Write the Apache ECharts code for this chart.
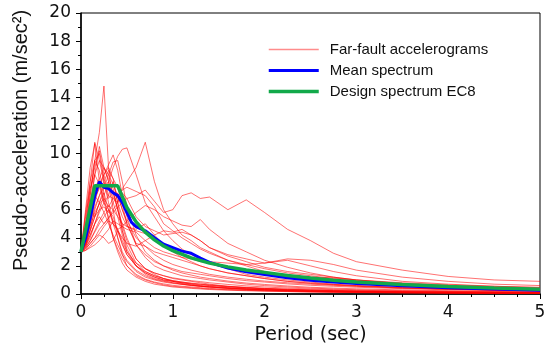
<!DOCTYPE html>
<html>
<head>
<meta charset="utf-8">
<script src="https://cdn.jsdelivr.net/npm/echarts@6/dist/echarts.min.js"></script>
<style>html,body{margin:0;padding:0;background:#fff;}#c{width:550px;height:350px;}</style>
</head>
<body>
<div id="c"></div>
<script>
// Period grid (sec) for the far-fault record spectra
const periods = [0, 0.05, 0.1, 0.15, 0.2, 0.25, 0.3, 0.35, 0.4, 0.45, 0.5, 0.6, 0.7, 0.8, 0.9, 1.0, 1.1, 1.2, 1.3, 1.4, 1.6, 1.8, 2.0, 2.25, 2.5, 2.75, 3.0, 3.5, 4.0, 4.5, 5.0];

// Far-fault accelerogram spectra (m/sec^2), one array per record
const rec01 = [3, 4.5, 7, 9.5, 11.5, 14.8, 9.0, 6.5, 5.5, 4.2, 3.0, 2.0, 1.6, 1.3, 1.1, 0.9, 0.8, 0.7, 0.6, 0.55, 0.45, 0.38, 0.32, 0.27, 0.22, 0.2, 0.18, 0.14, 0.11, 0.09, 0.08];
const rec02 = [3, 3.3, 3.8, 4.5, 5.2, 5.8, 6.3, 6.0, 6.5, 7.5, 8.0, 9.0, 10.8, 8.0, 6.0, 5.0, 4.2, 3.8, 3.3, 3.0, 2.4, 2.0, 1.6, 1.3, 1.1, 0.95, 0.8, 0.6, 0.45, 0.38, 0.32];
const rec03 = [3, 3.2, 3.6, 4.0, 4.6, 5.0, 5.4, 5.8, 6.2, 6.5, 6.8, 7.0, 7.4, 6.6, 5.8, 6.0, 7.0, 7.2, 6.8, 6.9, 6.0, 6.7, 5.8, 4.6, 3.8, 2.9, 2.3, 1.7, 1.25, 1.0, 0.9];
const rec04 = [3, 3.5, 4.2, 5.0, 6.0, 7.0, 8.0, 9.0, 9.8, 10.3, 10.4, 8.5, 6.5, 5.5, 4.5, 3.8, 3.2, 2.8, 2.5, 2.2, 1.8, 1.4, 1.2, 1.0, 0.85, 0.7, 0.6, 0.45, 0.35, 0.28, 0.22];
const rec05 = [3, 5.0, 8.0, 10.8, 9.5, 8.0, 6.5, 5.0, 4.5, 3.5, 2.8, 2.0, 1.5, 1.2, 1.0, 0.9, 0.75, 0.65, 0.55, 0.5, 0.4, 0.32, 0.28, 0.22, 0.18, 0.15, 0.13, 0.1, 0.08, 0.07, 0.06];
const rec06 = [3, 4.2, 6.5, 8.5, 10.5, 9.0, 8.2, 7.5, 6.0, 4.8, 3.8, 2.5, 1.8, 1.5, 1.3, 1.1, 1.0, 0.9, 0.8, 0.7, 0.55, 0.45, 0.4, 0.34, 0.28, 0.24, 0.2, 0.16, 0.13, 0.11, 0.1];
const rec07 = [3, 3.8, 5.5, 6.8, 7.5, 8.5, 9.2, 9.9, 8.8, 7.0, 5.5, 3.5, 2.6, 2.0, 1.7, 1.5, 1.3, 1.2, 1.1, 1.0, 0.85, 0.7, 0.6, 0.5, 0.42, 0.36, 0.3, 0.24, 0.19, 0.16, 0.13];
const rec08 = [3, 3.5, 4.5, 5.5, 6.0, 6.2, 5.8, 6.5, 7.0, 7.4, 7.6, 7.3, 7.0, 6.2, 5.0, 4.5, 4.0, 3.6, 3.2, 2.9, 2.4, 2.1, 1.8, 1.5, 1.3, 1.1, 0.95, 0.7, 0.55, 0.45, 0.38];
const rec09 = [3, 3.1, 3.4, 3.8, 4.2, 4.0, 3.6, 3.8, 4.5, 4.0, 3.6, 3.4, 3.8, 4.2, 4.5, 4.4, 4.6, 4.2, 3.8, 3.3, 2.8, 2.5, 2.2, 2.4, 2.0, 1.6, 1.3, 0.9, 0.7, 0.55, 0.45];
const rec10 = [3, 4.0, 5.5, 7.5, 8.2, 9.0, 8.0, 6.0, 4.0, 2.8, 2.0, 1.3, 1.0, 0.8, 0.65, 0.55, 0.5, 0.45, 0.4, 0.36, 0.3, 0.26, 0.22, 0.18, 0.15, 0.13, 0.11, 0.09, 0.07, 0.06, 0.05];
const rec11 = [3, 3.6, 5.0, 6.2, 7.0, 7.6, 8.0, 7.2, 6.0, 5.0, 4.0, 2.5, 1.8, 1.4, 1.1, 0.95, 0.85, 0.75, 0.7, 0.65, 0.55, 0.48, 0.4, 0.34, 0.3, 0.26, 0.22, 0.17, 0.14, 0.12, 0.1];
const rec12 = [3, 3.4, 4.2, 5.0, 5.5, 5.0, 5.4, 6.0, 5.5, 5.0, 4.8, 4.5, 4.3, 4.0, 3.6, 3.2, 2.8, 2.6, 2.4, 2.3, 2.2, 2.1, 2.2, 2.5, 2.4, 2.1, 1.7, 1.2, 0.9, 0.7, 0.6];
const rec13 = [3, 4.5, 7.0, 9.5, 10.0, 8.0, 6.8, 7.2, 6.0, 4.5, 3.5, 2.2, 1.6, 1.3, 1.1, 0.95, 0.85, 0.78, 0.7, 0.63, 0.52, 0.44, 0.37, 0.3, 0.25, 0.22, 0.19, 0.15, 0.12, 0.1, 0.08];
const rec14 = [3, 3.2, 3.6, 4.0, 4.3, 4.8, 5.2, 5.0, 4.6, 4.8, 5.2, 5.8, 6.3, 6.0, 5.5, 5.2, 4.9, 4.8, 5.3, 4.6, 3.6, 3.0, 2.4, 1.9, 1.5, 1.2, 1.0, 0.72, 0.56, 0.45, 0.38];
const rec15 = [3, 4.5, 6.0, 7.0, 6.5, 5.8, 5.0, 4.2, 3.5, 2.8, 2.3, 1.6, 1.2, 1.0, 0.85, 0.75, 0.68, 0.6, 0.55, 0.5, 0.42, 0.36, 0.3, 0.25, 0.21, 0.18, 0.16, 0.12, 0.1, 0.08, 0.07];
const rec16 = [3, 4.0, 6.0, 8.5, 9.5, 9.0, 8.5, 7.8, 7.0, 6.0, 5.0, 3.5, 2.8, 2.3, 2.0, 1.8, 1.6, 1.5, 1.4, 1.3, 1.1, 0.95, 0.85, 0.72, 0.62, 0.55, 0.48, 0.38, 0.3, 0.25, 0.21];
const rec17 = [3, 3.1, 3.3, 3.5, 3.8, 4.2, 4.6, 5.2, 5.0, 4.8, 4.6, 4.4, 3.8, 3.3, 3.0, 2.8, 2.6, 2.5, 2.3, 2.2, 1.9, 1.7, 1.5, 1.3, 1.2, 1.15, 1.0, 0.8, 0.65, 0.55, 0.48];
const rec18 = [3, 5.5, 7.5, 8.5, 7.8, 6.5, 5.5, 4.0, 3.0, 2.2, 1.7, 1.2, 0.9, 0.7, 0.6, 0.5, 0.45, 0.4, 0.36, 0.32, 0.27, 0.23, 0.2, 0.17, 0.14, 0.12, 0.1, 0.08, 0.06, 0.05, 0.04];
const rec19 = [3, 3.4, 4.0, 5.0, 5.8, 6.5, 7.0, 6.8, 6.5, 7.2, 6.8, 5.5, 4.8, 4.5, 4.2, 4.3, 4.4, 4.2, 3.8, 3.3, 2.7, 2.3, 1.9, 1.6, 1.4, 1.2, 1.0, 0.75, 0.58, 0.48, 0.4];
const rec20 = [3, 6.0, 9.0, 10.7, 8.0, 6.5, 6.0, 5.0, 4.0, 3.0, 2.4, 1.7, 1.3, 1.05, 0.9, 0.8, 0.7, 0.62, 0.56, 0.5, 0.42, 0.35, 0.3, 0.25, 0.21, 0.18, 0.16, 0.12, 0.1, 0.08, 0.07];
const rec21 = [3, 3.6, 4.8, 5.8, 6.4, 6.8, 6.2, 6.8, 7.2, 6.0, 5.2, 4.0, 3.4, 3.0, 2.8, 2.6, 2.4, 2.2, 2.0, 1.8, 1.5, 1.3, 1.1, 0.9, 0.78, 0.68, 0.6, 0.46, 0.37, 0.3, 0.26];
const rec22 = [3, 3.3, 3.8, 4.4, 5.0, 5.5, 6.0, 5.5, 4.5, 3.6, 2.8, 2.0, 1.5, 1.2, 1.0, 0.9, 0.8, 0.72, 0.65, 0.6, 0.5, 0.43, 0.37, 0.31, 0.27, 0.24, 0.21, 0.17, 0.14, 0.12, 0.1];
const rec23 = [3, 3.8, 5.0, 6.5, 7.8, 8.5, 9.0, 8.2, 6.5, 5.5, 4.8, 4.6, 5.0, 4.2, 3.5, 3.0, 2.6, 2.3, 2.0, 1.8, 1.5, 1.3, 1.1, 0.9, 0.75, 0.65, 0.55, 0.42, 0.34, 0.28, 0.24];
const rec24 = [3, 3.5, 4.5, 5.5, 6.5, 7.5, 8.5, 9.4, 9.5, 8.0, 6.2, 4.2, 3.0, 2.4, 2.0, 1.7, 1.5, 1.35, 1.2, 1.1, 0.92, 0.78, 0.68, 0.57, 0.48, 0.42, 0.37, 0.29, 0.23, 0.19, 0.16];
const rec25 = [3, 4.8, 7.5, 9.0, 10.2, 8.5, 7.0, 8.0, 6.5, 4.5, 3.2, 2.0, 1.4, 1.1, 0.95, 0.8, 0.7, 0.62, 0.55, 0.5, 0.4, 0.34, 0.29, 0.24, 0.2, 0.17, 0.15, 0.11, 0.09, 0.07, 0.06];
const rec26 = [3, 4.5, 6.2, 5.5, 6.5, 7.2, 6.0, 5.2, 4.6, 3.8, 3.0, 2.2, 1.8, 1.5, 1.3, 1.15, 1.05, 0.95, 0.88, 0.8, 0.68, 0.58, 0.5, 0.42, 0.36, 0.31, 0.27, 0.21, 0.17, 0.14, 0.12];
const rec27 = [3, 3.6, 4.6, 6.0, 7.0, 8.0, 8.8, 8.2, 7.6, 6.4, 5.0, 3.6, 3.4, 2.8, 2.4, 2.1, 1.9, 1.7, 1.55, 1.4, 1.2, 1.05, 0.92, 0.8, 0.7, 0.62, 0.55, 0.43, 0.35, 0.29, 0.25];
const rec28 = [3, 5.8, 8.0, 9.5, 8.8, 7.0, 5.2, 4.0, 3.2, 2.5, 2.0, 1.4, 1.05, 0.85, 0.72, 0.62, 0.55, 0.5, 0.45, 0.4, 0.33, 0.28, 0.24, 0.2, 0.17, 0.14, 0.12, 0.09, 0.07, 0.06, 0.05];
const records = [rec01, rec02, rec03, rec04, rec05, rec06, rec07, rec08, rec09, rec10, rec11, rec12, rec13, rec14, rec15, rec16, rec17, rec18, rec19, rec20, rec21, rec22, rec23, rec24, rec25, rec26, rec27, rec28];

// Mean spectrum
const meanPeriods = [0, 0.05, 0.1, 0.15, 0.2, 0.25, 0.3, 0.35, 0.4, 0.45, 0.5, 0.55, 0.6, 0.7, 0.8, 0.9, 1.0, 1.1, 1.2, 1.3, 1.4, 1.6, 1.8, 2.0, 2.25, 2.5, 2.75, 3.0, 3.5, 4.0, 4.5, 5.0];
const meanValues  = [3, 4.0, 5.4, 7.0, 8.0, 7.6, 7.5, 7.2, 7.0, 6.5, 5.8, 5.1, 4.8, 4.5, 4.0, 3.55, 3.3, 3.05, 2.9, 2.55, 2.25, 1.85, 1.58, 1.38, 1.15, 0.98, 0.85, 0.74, 0.58, 0.45, 0.35, 0.27];

// EC8 design spectrum
const ec8Periods = [0, 0.15, 0.4, 0.5, 0.6, 0.7, 0.8, 0.9, 1.0, 1.2, 1.4, 1.6, 1.8, 2.0, 2.25, 2.5, 2.75, 3.0, 3.5, 4.0, 4.5, 5.0];
const ec8Values  = [3, 7.7, 7.7, 6.16, 5.13, 4.4, 3.85, 3.42, 3.08, 2.57, 2.2, 1.93, 1.71, 1.54, 1.32, 1.14, 0.98, 0.85, 0.68, 0.54, 0.43, 0.34];

// Axis ticks
const xTicks = [0, 1, 2, 3, 4, 5];
const yTicks = [0, 2, 4, 6, 8, 10, 12, 14, 16, 18, 20];

const pairs = (xs, ys) => xs.map((x, i) => [x, ys[i]]);

const series = records.map(r => ({
  name: 'Far-fault accelerograms',
  type: 'line',
  data: pairs(periods, r),
  symbol: 'none',
  lineStyle: { color: 'rgba(255,0,0,0.7)', width: 0.8 },
  itemStyle: { color: 'rgba(255,0,0,0.45)' },
  z: 2,
  silent: true
}));
series.push({
  name: 'Mean spectrum', type: 'line', data: pairs(meanPeriods, meanValues), symbol: 'none',
  lineStyle: { color: '#0000ff', width: 3 }, itemStyle: { color: '#0000ff' }, z: 3
});
series.push({
  name: 'Design spectrum EC8', type: 'line', data: pairs(ec8Periods, ec8Values), symbol: 'none',
  lineStyle: { color: '#12a94a', width: 3.5 }, itemStyle: { color: '#12a94a' }, z: 4
});

const chart = echarts.init(document.getElementById('c'), null, { renderer: 'canvas' });
chart.setOption({
  animation: false,
  backgroundColor: '#fff',
  grid: { left: 81, right: 10, top: 13, bottom: 56, show: true, borderColor: '#000', borderWidth: 1, backgroundColor: 'transparent' },
  legend: {
    orient: 'vertical', left: 262, top: 37,
    itemWidth: 50, itemHeight: 12, itemGap: 6,
    data: [
      { name: 'Far-fault accelerograms', itemStyle: { opacity: 0 }, lineStyle: { color: 'rgba(255,0,0,0.45)', width: 1.5 } },
      { name: 'Mean spectrum', itemStyle: { opacity: 0 }, lineStyle: { color: '#0000ff', width: 3 } },
      { name: 'Design spectrum EC8', itemStyle: { opacity: 0 }, lineStyle: { color: '#12a94a', width: 3.5 } }
    ],
    textStyle: { fontFamily: 'Liberation Sans, Arial, sans-serif', fontSize: 15, color: '#111', padding: [0, 0, 0, 6] },
    selectedMode: false
  },
  xAxis: {
    type: 'value', min: xTicks[0], max: xTicks[xTicks.length - 1], interval: 1,
    name: 'Period (sec)', nameLocation: 'middle', nameGap: 28,
    nameTextStyle: { fontFamily: 'DejaVu Sans', fontSize: 19, color: '#111' },
    axisLine: { show: true, lineStyle: { color: '#000', width: 1.5 } },
    axisTick: { show: true, length: 5, lineStyle: { color: '#000' } },
    minorTick: { show: true, splitNumber: 4, length: 3, lineStyle: { color: '#000' } },
    splitLine: { show: false },
    axisLabel: { margin: 10, fontFamily: 'DejaVu Sans', fontSize: 17, color: '#111' }
  },
  yAxis: {
    type: 'value', min: yTicks[0], max: yTicks[yTicks.length - 1], interval: 2,
    name: 'Pseudo-acceleration (m/sec²)', nameLocation: 'middle', nameGap: 50,
    nameTextStyle: { fontFamily: 'Liberation Sans, Arial, sans-serif', fontSize: 20, color: '#111', padding: [0, 0, 0, 26] },
    axisLine: { show: true, lineStyle: { color: '#000', width: 1.5 } },
    axisTick: { show: true, length: 5, lineStyle: { color: '#000' } },
    minorTick: { show: true, splitNumber: 2, length: 3, lineStyle: { color: '#000' } },
    splitLine: { show: false },
    axisLabel: { margin: 10, fontFamily: 'DejaVu Sans', fontSize: 17, color: '#111' }
  },
  series: series
});
</script>
</body>
</html>
